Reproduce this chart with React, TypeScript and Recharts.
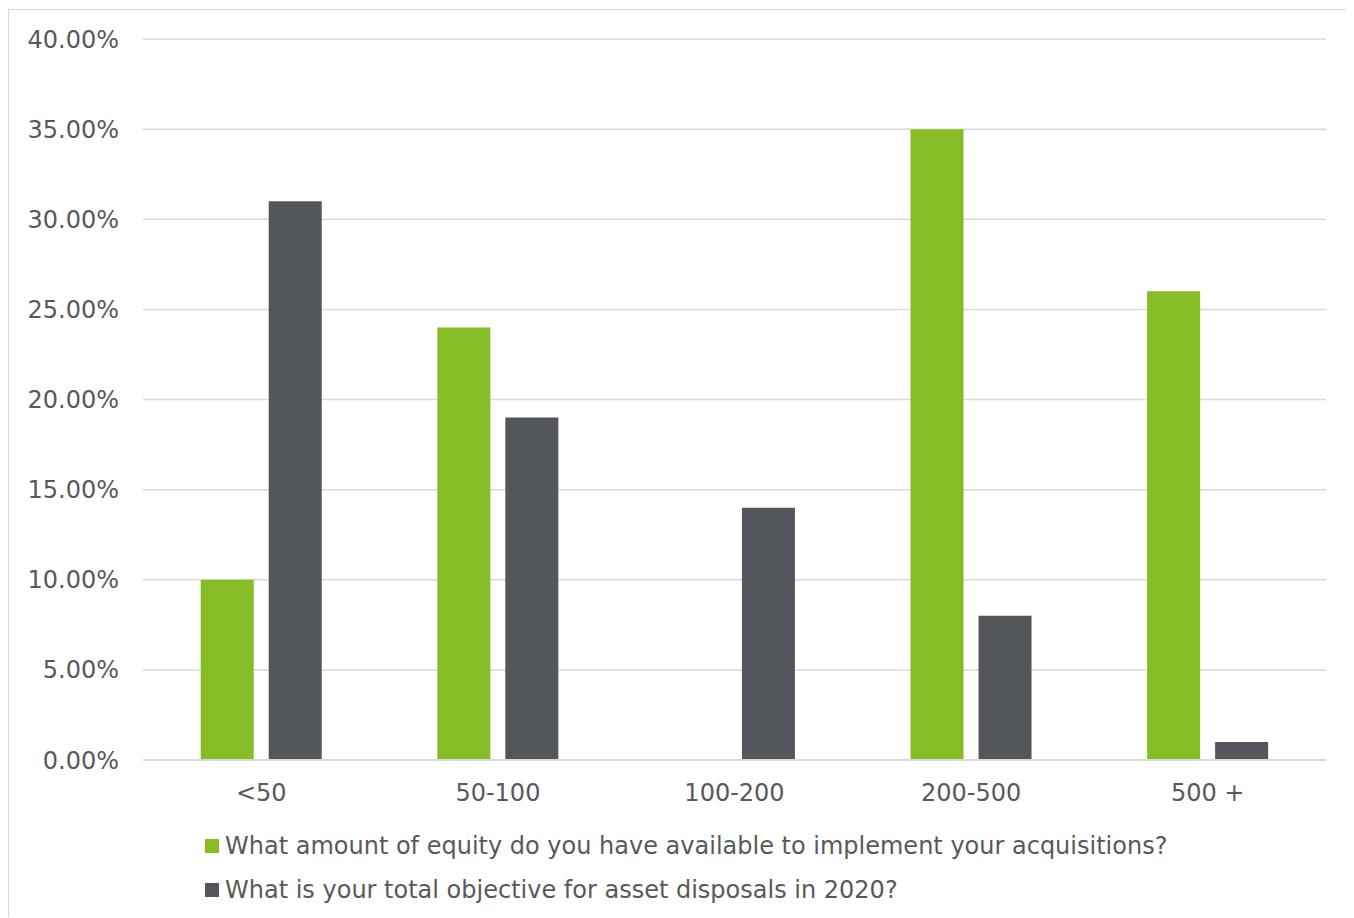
import React from "react";
import { BarChart, Bar, XAxis, YAxis, CartesianGrid } from "recharts";

const categories = ["<50", "50-100", "100-200", "200-500", "500 +"];
const equityValues = [10, 24, 0, 35, 26];
const disposalValues = [31, 19, 14, 8, 1];
const yTicks = [0, 5, 10, 15, 20, 25, 30, 35, 40];
const seriesNames = [
  "What amount of equity do you have available to implement your acquisitions?",
  "What is your total objective for asset disposals in 2020?",
];
const seriesColors = ["#86bc25", "#53565a"];

const data = categories.map((c, i) => ({
  name: c,
  equity: equityValues[i],
  disposal: disposalValues[i],
}));

const FONT = "'DejaVu Sans', Verdana, sans-serif";
const TEXT = "#595959";
const FS = 24;

const LegendBlock = () => (
  <div
    style={{
      position: "absolute",
      left: 196,
      top: 814,
      fontFamily: FONT,
      fontSize: FS,
      color: TEXT,
    }}
  >
    {seriesNames.map((n, i) => (
      <div
        key={n}
        style={{ display: "flex", alignItems: "center", height: 44, whiteSpace: "nowrap" }}
      >
        <span
          style={{
            display: "inline-block",
            width: 14,
            height: 14,
            background: seriesColors[i],
            marginRight: 6,
          }}
        />
        <span>{n}</span>
      </div>
    ))}
  </div>
);

export default function App() {
  return (
    <div
      style={{
        position: "relative",
        top: 1,
        width: 1346,
        height: 909,
        borderLeft: "1px solid #d9d9d9",
        borderTop: "1px solid #d9d9d9",
        boxSizing: "border-box",
        background: "#fff",
      }}
    >
      <style>{`html,body{overflow:hidden;}`}</style>
      <div style={{ position: "absolute", left: -1, top: -1 }}>
        <BarChart
          width={1346}
          height={900}
          data={data}
          margin={{ top: 30, right: 28, bottom: 89, left: 0 }}
          barCategoryGap="24.4%"
          barGap={15}
        >
          <CartesianGrid vertical={false} stroke="#d9d9d9" strokeWidth={1.5} />
          <XAxis
            dataKey="name"
            axisLine={{ stroke: "#d9d9d9", strokeWidth: 2 }}
            tickLine={false}
            tickSize={0}
            tickMargin={24}
            height={60}
            tick={{ fill: TEXT, fontSize: FS, fontFamily: FONT }}
          />
          <YAxis
            domain={[0, 40]}
            ticks={yTicks}
            width={135}
            axisLine={false}
            tickLine={false}
            tickSize={0}
            tickMargin={24}
            interval={0}
            tickFormatter={(v: number) => `${v.toFixed(2)}%`}
            tick={{ fill: TEXT, fontSize: FS, fontFamily: FONT }}
          />
          <Bar dataKey="equity" name={seriesNames[0]} fill={seriesColors[0]} isAnimationActive={false} />
          <Bar dataKey="disposal" name={seriesNames[1]} fill={seriesColors[1]} isAnimationActive={false} />
        </BarChart>
      </div>
      <LegendBlock />
    </div>
  );
}
